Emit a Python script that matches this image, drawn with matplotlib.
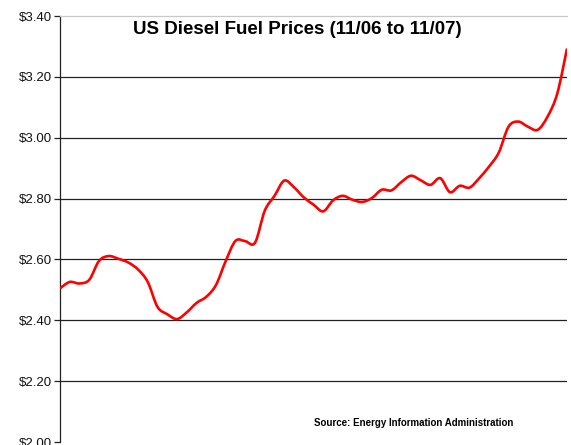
import matplotlib
matplotlib.use("Agg")
import matplotlib.pyplot as plt
from matplotlib.path import Path
from matplotlib.patches import PathPatch
import numpy as np

plt.rcParams['font.family'] = ['Liberation Sans', 'DejaVu Sans']

# Weekly US diesel prices, Nov 2006 - Nov 2007
weeks = list(range(53))
prices = [2.505, 2.526, 2.521, 2.533, 2.595, 2.611, 2.602, 2.590, 2.567, 2.526,
          2.444, 2.420, 2.404, 2.426, 2.457, 2.477, 2.516, 2.595, 2.661, 2.660,
          2.655, 2.760, 2.809, 2.859, 2.837, 2.804, 2.780, 2.758, 2.794, 2.809,
          2.796, 2.789, 2.802, 2.829, 2.827, 2.854, 2.875, 2.860, 2.845, 2.867,
          2.821, 2.842, 2.836, 2.867, 2.905, 2.951, 3.036, 3.053, 3.036, 3.026,
          3.069, 3.145, 3.293]
yticks = [2.00, 2.20, 2.40, 2.60, 2.80, 3.00, 3.20, 3.40]
ytick_labels = ["$2.00", "$2.20", "$2.40", "$2.60", "$2.80", "$3.00", "$3.20", "$3.40"]
title = "US Diesel Fuel Prices (11/06 to 11/07)"
source = "Source: Energy Information Administration"

fig = plt.figure(figsize=(5.71, 4.45), dpi=100)
ax = fig.add_axes([60/571, 1-442/445, (567-60)/571, (442-16)/445])

ax.set_xlim(weeks[0], weeks[-1])
ax.set_ylim(2.0, 3.4)
ax.set_yticks(yticks)
ax.set_yticklabels(ytick_labels, fontsize=9.5, color='#111111')
ax.set_xticks([])
for y in yticks[1:-1]:
    ax.axhline(y, color='#222222', lw=0.9, zorder=1)

# Smoothed line (Excel-style): cubic Bezier segments through the data points
x = np.asarray(weeks, dtype=float)
y = np.asarray(prices, dtype=float)
verts = [(x[0], y[0])]
codes = [Path.MOVETO]
n = len(x)
for i in range(n - 1):
    p0 = (x[max(i - 1, 0)], y[max(i - 1, 0)])
    p1 = (x[i], y[i])
    p2 = (x[i + 1], y[i + 1])
    p3 = (x[min(i + 2, n - 1)], y[min(i + 2, n - 1)])
    c1 = (p1[0] + (p2[0] - p0[0]) / 6, p1[1] + (p2[1] - p0[1]) / 6)
    c2 = (p2[0] - (p3[0] - p1[0]) / 6, p2[1] - (p3[1] - p1[1]) / 6)
    verts += [c1, c2, p2]
    codes += [Path.CURVE4] * 3
ax.add_patch(PathPatch(Path(verts, codes), facecolor='none', edgecolor='#ff0000',
                       lw=1.9, zorder=3, joinstyle='round', capstyle='butt'))

ax.spines['right'].set_visible(False)
ax.spines['bottom'].set_visible(False)
ax.spines['top'].set_color('#c8c8c8')
ax.spines['top'].set_linewidth(0.9)
ax.spines['left'].set_color('#222222')
ax.spines['left'].set_linewidth(0.9)
ax.tick_params(axis='y', length=4, width=0.9, color='#222222', pad=2)

fig.text(297/571, 1-30/445, title, fontsize=13.5, fontweight='bold', ha='center', va='center')
fig.text(513/571, 1-423/445, source, fontsize=7, fontweight='bold', ha='right', va='center')

fig.savefig("out.png", dpi=100)
